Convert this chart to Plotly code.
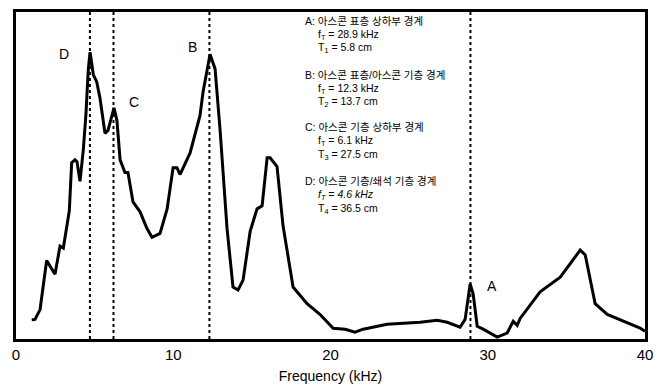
import plotly.graph_objects as go

freq_khz = [1.00, 1.21, 1.53, 1.95, 2.48, 2.80, 3.01, 3.39, 3.54, 3.75, 3.88, 4.07, 4.28, 4.45, 4.60, 4.71,
            4.92, 5.13, 5.34, 5.66, 5.85, 6.23, 6.42, 6.62, 6.93, 7.12, 7.44, 7.89, 8.33, 8.65, 9.16, 9.61,
            9.99, 10.24, 10.43, 11.07, 11.70, 11.90, 12.34, 12.66, 12.98, 13.42, 13.80, 14.12, 14.44, 14.89,
            15.33, 15.65, 15.97, 16.16, 16.60, 16.98, 17.62, 18.51, 18.89, 19.34, 20.17, 20.93, 21.56, 22.07,
            23.60, 25.70, 26.78, 27.42, 28.24, 28.56, 28.88, 29.07, 29.33, 29.71, 30.60, 31.23, 31.62, 31.87,
            32.06, 33.33, 34.61, 35.88, 36.20, 36.83, 37.60, 38.61, 39.69, 40.00]
amplitude = [5.9, 6.0, 9.0, 24.0, 19.8, 28.4, 27.8, 39.2, 53.9, 54.8, 54.2, 48.2, 57.8, 68.9, 82.6, 87.7,
             80.8, 78.7, 73.7, 62.9, 63.8, 70.7, 66.8, 54.8, 50.9, 50.9, 41.9, 38.9, 33.8, 31.1, 32.3, 39.8,
             52.4, 52.4, 50.3, 56.9, 68.3, 75.7, 87.1, 82.6, 63.8, 33.8, 15.9, 15.0, 18.0, 32.9,
             39.8, 40.7, 55.4, 55.4, 52.7, 34.7, 15.9, 10.8, 9.3, 7.5, 3.3, 3.0, 2.1, 3.0,
             4.5, 5.1, 5.7, 5.1, 3.6, 6.0, 16.8, 13.8, 3.9, 3.0, 0.6, 1.8, 5.4, 4.2,
             6.3, 14.4, 18.9, 27.2, 25.7, 10.8, 7.5, 5.4, 3.3, 2.4]

boundary_freqs = [4.7, 6.2, 12.3, 28.9]
peak_labels = ["D", "C", "B", "A"]
peak_label_x = [3.05, 7.5, 11.2, 30.3]
peak_label_y = [87.1, 72.5, 89.2, 16.2]

x_ticks = [0, 10, 20, 30, 40]

legend_lines = [
    ("A: 아스콘 표층 상하부 경계", 0),
    ("f<sub>T</sub> = 28.9 kHz", 1),
    ("T<sub>1</sub> = 5.8 cm", 1),
    ("B: 아스콘 표층/아스콘 기층 경계", 0),
    ("f<sub>T</sub> = 12.3 kHz", 1),
    ("T<sub>2</sub> = 13.7 cm", 1),
    ("C: 아스콘 기층 상하부 경계", 0),
    ("f<sub>T</sub> = 6.1 kHz", 1),
    ("T<sub>3</sub> = 27.5 cm", 1),
    ("D: 아스콘 기층/쇄석 기층 경계", 0),
    ("<i>f<sub>T</sub> = 4.6 kHz</i>", 1),
    ("T<sub>4</sub> = 36.5 cm", 1),
]
legend_y = [97.3, 93.1, 88.9, 80.8, 76.6, 72.4, 64.7, 60.5, 56.3, 48.2, 44.0, 39.8]

FONT = "Liberation Sans, Arial, Noto Sans CJK KR, sans-serif"

fig = go.Figure()
fig.add_trace(go.Scatter(x=freq_khz, y=amplitude, mode="lines",
                         line=dict(color="black", width=3), showlegend=False))

for f in boundary_freqs:
    fig.add_shape(type="line", x0=f, x1=f, y0=0, y1=100, xref="x", yref="y",
                  line=dict(color="black", width=2, dash="dot"))

for lab, lx, ly in zip(peak_labels, peak_label_x, peak_label_y):
    fig.add_annotation(x=lx, y=ly, text=lab, showarrow=False,
                       font=dict(size=14, color="black", family=FONT))

for (txt, indent), ly in zip(legend_lines, legend_y):
    fig.add_annotation(x=18.26 if indent == 0 else 19.05, y=ly, text=txt, showarrow=False,
                       xanchor="left", yanchor="middle",
                       font=dict(size=10.5, color="black", family=FONT))

fig.update_layout(
    width=664, height=392,
    margin=dict(l=16, r=19, t=9, b=49),
    paper_bgcolor="white", plot_bgcolor="white",
    font=dict(family=FONT, color="black"),
    xaxis=dict(range=[0, 40], tickvals=x_ticks, ticks="", showgrid=False, zeroline=False,
               showline=True, mirror=True, linecolor="black", linewidth=2.5,
               tickfont=dict(size=15), title=dict(text="Frequency (kHz)", font=dict(size=14), standoff=10)),
    yaxis=dict(range=[0, 100], showticklabels=False, ticks="", showgrid=False, zeroline=False,
               showline=True, mirror=True, linecolor="black", linewidth=2.5),
)

fig.write_html("out.html")
